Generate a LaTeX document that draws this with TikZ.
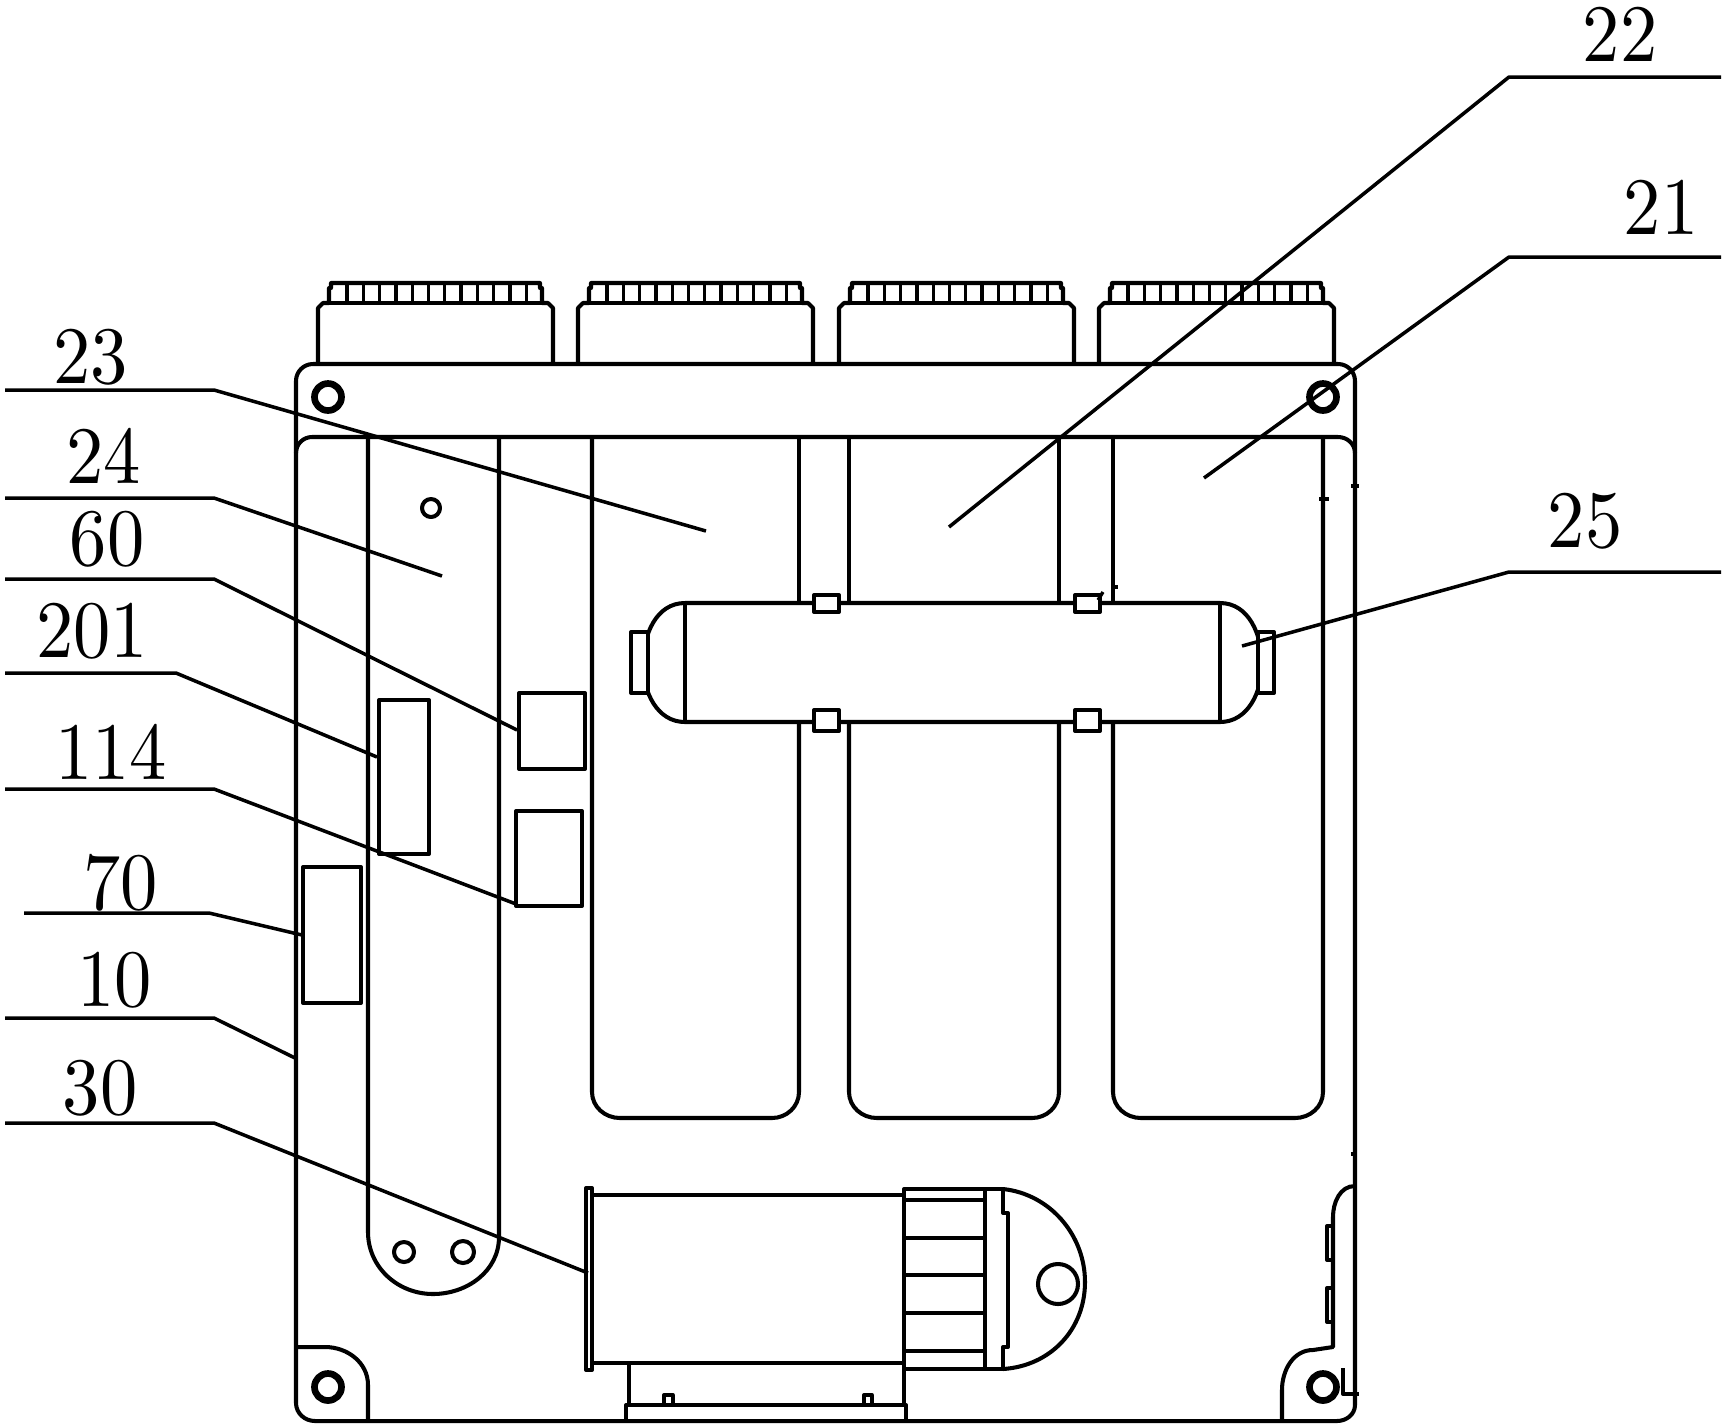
\documentclass[tikz,border=0pt]{standalone}
\tikzset{
  part/.style={line width=1.15pt},
  thinpart/.style={line width=0.95pt},
  leader/.style={line width=1pt},
  numlabel/.style={xscale=2.12,yscale=2.32,inner sep=0pt}
}
\begin{document}
\begin{tikzpicture}[x=0.01cm,y=-0.01cm,line join=round]
\useasboundingbox (0,0) rectangle (1723,1426);
% housing
\draw[part] (313,364) -- (1338,364) to[out=0,in=90] (1355,381) -- (1355,1405) to[out=-90,in=0] (1337,1421) -- (315,1421) to[out=180,in=-90] (296,1403) -- (296,381) to[out=90,in=180] (313,364);
\draw[part] (296,453) to[out=90,in=180] (312,437) -- (1338,437) to[out=0,in=90] (1355,453);
% connectors on top
\foreach \cx in {318,578,839,1099}{
  \draw[part] (\cx,364) -- (\cx,308) -- ++(5,-5) -- ++(6,0) -- ++(0,-15) -- ++(2,0) -- ++(0,-5) -- ++(209,0) -- ++(0,5) -- ++(2,0) -- ++(0,15) -- ++(6,0) -- ++(5,5) -- ++(0,56);
  \draw[part] (\cx+11,303) -- ++(213,0);
  \foreach \k in {1,...,12}{
    \draw[thinpart] ({\cx+12.7+\k*16.3},283) -- ++(0,20);
  }
}
% tall slots
\draw[part] (592,437) -- (592,1092) to[out=-90,in=180] (620,1118) -- (772,1118) to[out=0,in=-90] (799,1092) -- (799,722);
\draw[part] (799,603) -- (799,437);
\draw[part] (849,437) -- (849,603);
\draw[part] (849,722) -- (849,1092) to[out=-90,in=180] (877,1118) -- (1032,1118) to[out=0,in=-90] (1059,1092) -- (1059,722);
\draw[part] (1059,603) -- (1059,437);
\draw[part] (1113,437) -- (1113,603);
\draw[part] (1113,722) -- (1113,1092) to[out=-90,in=180] (1141,1118) -- (1295,1118) to[out=0,in=-90] (1323,1092) -- (1323,437);
% slot on the left
\draw[part] (368,437) -- (368,1232) to[out=-90,in=180] (433,1294) to[out=0,in=-90] (499,1237) -- (499,437);
\draw[part] (431,508) circle (9);
\draw[part] (404,1252) circle (10);
\draw[part] (463,1252) circle (11);
% tube across the slots
\draw[part] (685,603) -- (1220,603) to[out=0,in=90] (1262,664) to[out=-90,in=0] (1220,722) -- (685,722) to[out=180,in=-90] (643,664) to[out=90,in=180] (685,603);
\draw[thinpart] (685,603) -- (685,722);
\draw[part] (1220,603) -- (1220,722);
\draw[part,fill=white] (631,632) rectangle (648,693);
\draw[part,fill=white] (1258,632) rectangle (1274,693);
\foreach \sx in {814,1075}{
  \draw[part,fill=white] (\sx,595) rectangle ++(25,17);
  \draw[part,fill=white] (\sx,710) rectangle ++(25,21);
}
% small boxes
\draw[part] (519,693) rectangle (585,769);
\draw[part] (516,811) rectangle (582,906);
\draw[part] (379,700) rectangle (429,854);
\draw[part] (303,867) rectangle (361,1003);
% motor
\draw[part] (586,1188) rectangle (592,1370);
\draw[part] (592,1195) rectangle (904,1363);
\draw[part] (904,1189) rectangle (985,1369);
\foreach \fy in {1200,1238,1275,1313,1351}{
  \draw[part] (904,\fy) -- (985,\fy);
}
\draw[part] (985,1189) -- (1003,1189) -- (1003,1213) -- (1008,1213) -- (1008,1347) -- (1003,1347) -- (1003,1369) -- (985,1369);
\draw[part] (1003,1189) .. controls (1050,1194) and (1085,1235) .. (1085,1282) .. controls (1085,1330) and (1050,1366) .. (1003,1369);
\draw[part] (1058,1284) circle (20);
% motor base
\draw[part] (629,1363) -- (629,1405);
\draw[part] (904,1369) -- (904,1405);
\draw[part] (626,1421) -- (626,1405) -- (906,1405) -- (906,1421);
\draw[thinpart] (664,1405) rectangle (673,1395);
\draw[thinpart] (864,1405) rectangle (872,1395);
% bolts and corners
\foreach \bx/\by in {328/397,1323/397,328/1387,1323/1387}{
  \draw[line width=1.9pt] (\bx,\by) circle (13.5);
}
\draw[part] (296,1347) -- (325,1347) to[out=0,in=90] (368,1385) -- (368,1421);
\draw[part] (1355,1186) to[out=180,in=90] (1333,1217) -- (1333,1347) -- (1313,1350) to[out=180,in=90] (1282,1390) -- (1282,1421);
\draw[thinpart] (1327,1226) rectangle (1333,1260);
\draw[thinpart] (1327,1288) rectangle (1333,1322);
\draw[thinpart] (1343,1368) -- (1343,1394) -- (1359,1394);
% specks
\draw[thinpart] (1319,499) -- (1329,499);
\draw[thinpart] (1351,486) -- (1359,486);
\draw[thinpart] (1098,600) -- (1103,592);
\draw[thinpart] (1113,587) -- (1118,587);
\draw[thinpart] (1351,1154) -- (1355,1154);
% labels and leaders
\foreach \num/\lx/\ly/\sx/\kx/\ky/\tx/\ty in {
  22/1620/34/1721/1509/77/949/527,
  21/1661/207/1721/1509/257/1204/478,
  25/1585/521/1721/1509/572/1242/646,
  23/91/357/5/214/390/706/531,
  24/104/456/5/214/498/442/576,
  60/107/539/5/214/579/517/730,
  201/92/631/5/176/673/377/757,
  114/111/752/5/214/789/516/904,
  70/121/883/24/209/913/302/935,
  10/115/980/5/214/1018/295/1058,
  30/100/1088/5/214/1123/588/1273}{
  \node[numlabel] (lab\num) at (\lx,\ly) {\num};
  \coordinate (from\num) at (\sx,\ky);
  \coordinate (knee\num) at (\kx,\ky);
  \coordinate (tip\num) at (\tx,\ty);
  \draw[leader] (from\num) -- (knee\num) -- (tip\num);
}
\end{tikzpicture}
\end{document}
